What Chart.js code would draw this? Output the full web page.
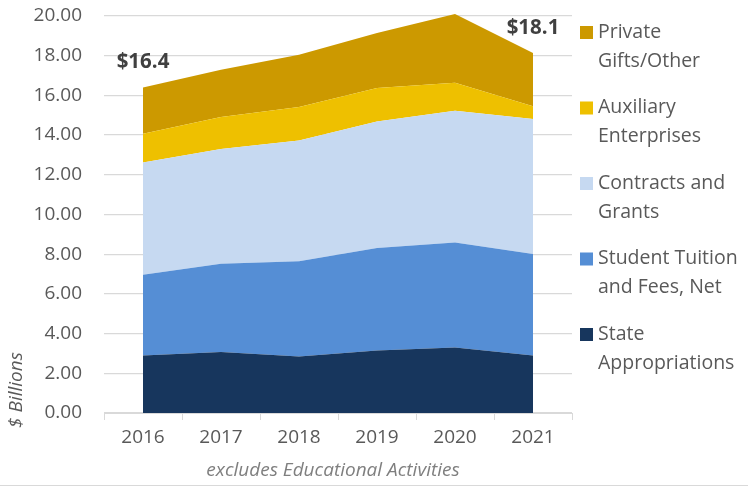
<!DOCTYPE html>
<html>
<head>
<meta charset="utf-8">
<script src="https://cdn.jsdelivr.net/npm/chart.js@4"></script>
<style>
  body { margin: 0; background: #fff; }
  #wrap { width: 748px; height: 486px; }
</style>
</head>
<body>
<div id="wrap"><canvas id="chartReceitas" width="748" height="486"></canvas></div>
<script>
// dados ($ bilhões)
const years = ['2016', '2017', '2018', '2019', '2020', '2021'];
const stateAppropriations = [2.90, 3.07, 2.85, 3.15, 3.30, 2.90];
const tuitionFees = [4.07, 4.45, 4.79, 5.16, 5.29, 5.11];
const contractsGrants = [5.65, 5.78, 6.09, 6.38, 6.64, 6.80];
const auxiliaryEnterprises = [1.45, 1.61, 1.69, 1.68, 1.41, 0.64];
const privateGifts = [2.33, 2.38, 2.63, 2.77, 3.46, 2.69];
const yTicks = [0, 2, 4, 6, 8, 10, 12, 14, 16, 18, 20];
const labeledIndexes = [0, 5];

const FONT = "'Open Sans', sans-serif";
const TEXT = '#595959';

const series = [
  { label: ['State', 'Appropriations'], data: stateAppropriations, color: '#17365D' },
  { label: ['Student Tuition', 'and Fees, Net'], data: tuitionFees, color: '#558ED5' },
  { label: ['Contracts and', 'Grants'], data: contractsGrants, color: '#C6D9F1' },
  { label: ['Auxiliary', 'Enterprises'], data: auxiliaryEnterprises, color: '#EEC000' },
  { label: ['Private', 'Gifts/Other'], data: privateGifts, color: '#CC9900' }
];

const extras = {
  id: 'extras',
  afterDraw(chart) {
    const ctx = chart.ctx;
    const x = chart.scales.x;
    const y = chart.scales.y;
    ctx.save();

    // rótulos de total (primeiro e último ano)
    ctx.font = "bold 20.5px " + FONT;
    ctx.fillStyle = '#404040';
    ctx.textAlign = 'center';
    ctx.textBaseline = 'middle';
    labeledIndexes.forEach(i => {
      const total = series.reduce((s, d) => s + d.data[i], 0);
      ctx.fillText('$' + total.toFixed(1), x.getPixelForValue(i), y.getPixelForValue(total) - 25);
    });

    // título do eixo y
    ctx.save();
    ctx.translate(17, 390);
    ctx.rotate(-Math.PI / 2);
    ctx.font = "italic 19px " + FONT;
    ctx.fillStyle = TEXT;
    ctx.fillText('$ Billions', 0, 0);
    ctx.restore();

    // nota abaixo do eixo x
    ctx.font = "italic 19px " + FONT;
    ctx.fillStyle = '#7F7F7F';
    ctx.fillText('excludes Educational Activities', 333, 471);

    // legenda (ordem invertida)
    ctx.textAlign = 'left';
    [...series].reverse().forEach((s, k) => {
      const top = 32 + k * 75.5;
      ctx.fillStyle = s.color;
      ctx.fillRect(580, top - 6, 13, 13);
      ctx.fillStyle = TEXT;
      ctx.font = "19.5px " + FONT;
      s.label.forEach((line, j) => ctx.fillText(line, 598, top + j * 29));
    });

    // borda inferior
    ctx.strokeStyle = '#D9D9D9';
    ctx.lineWidth = 1;
    ctx.beginPath();
    ctx.moveTo(0, 485.5);
    ctx.lineTo(748, 485.5);
    ctx.stroke();
    ctx.restore();
  }
};

new Chart(document.getElementById('chartReceitas'), {
  type: 'line',
  data: {
    labels: years,
    datasets: series.map((s, i) => ({
      label: s.label.join(' '),
      data: s.data,
      backgroundColor: s.color,
      borderColor: s.color,
      borderWidth: 0,
      pointRadius: 0,
      tension: 0,
      fill: i === 0 ? 'origin' : '-1'
    }))
  },
  options: {
    responsive: false,
    animation: false,
    layout: { padding: { top: 12, right: 176, left: 0, bottom: 0 } },
    plugins: {
      legend: { display: false },
      tooltip: { enabled: false }
    },
    scales: {
      x: {
        offset: true,
        grid: { offset: true, drawOnChartArea: false, tickLength: 7, color: '#D9D9D9' },
        border: { color: '#D9D9D9' },
        ticks: { color: TEXT, font: { family: FONT, size: 19 }, padding: 6 },
        afterFit: s => { s.height = 73; s.paddingLeft = 0; s.paddingRight = 0; }
      },
      y: {
        stacked: true,
        min: 0,
        max: 20.2,
        afterBuildTicks: s => { s.ticks = yTicks.map(v => ({ value: v })); },
        grid: { color: '#D9D9D9', lineWidth: 1.3, drawTicks: false },
        border: { display: false },
        ticks: {
          color: TEXT,
          font: { family: FONT, size: 19 },
          padding: 22,
          callback: v => Number(v).toFixed(2)
        },
        afterFit: s => { s.width = 104; s.paddingTop = 0; s.paddingBottom = 0; }
      }
    }
  },
  plugins: [extras]
});
</script>
</body>
</html>
